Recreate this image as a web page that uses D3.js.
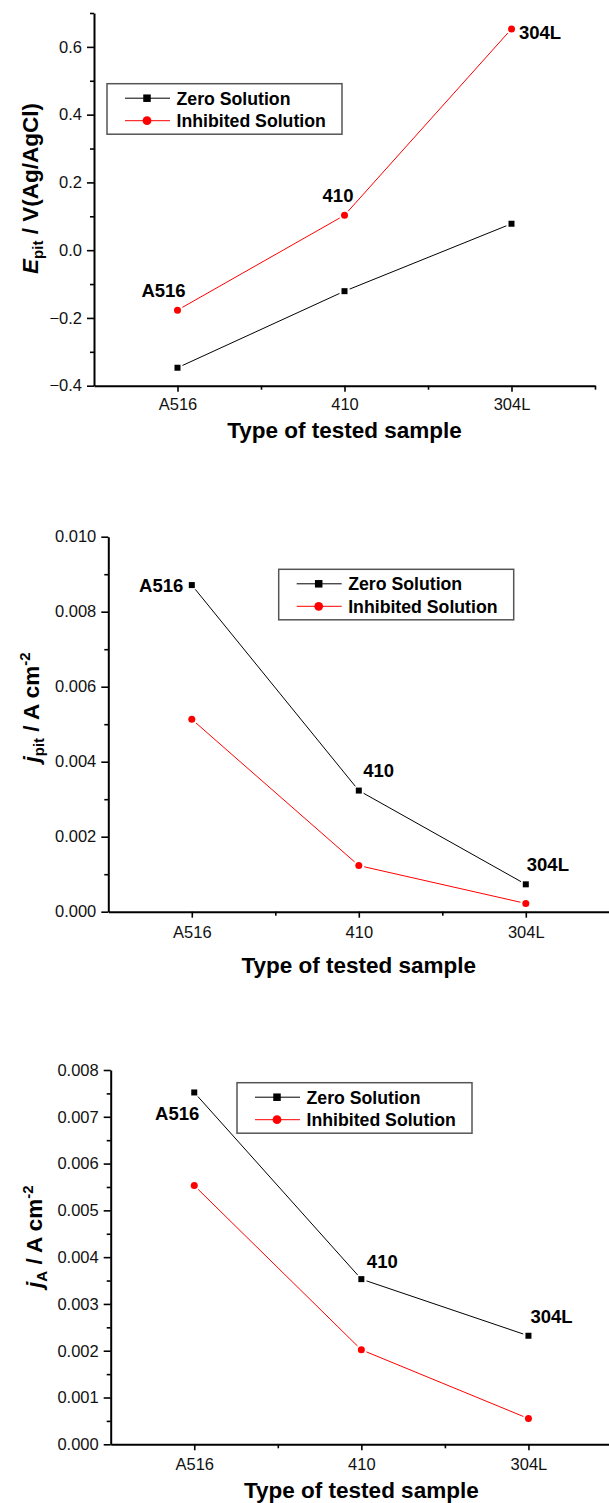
<!DOCTYPE html>
<html>
<head>
<meta charset="utf-8">
<script src="https://cdn.jsdelivr.net/npm/d3@7"></script>
<style>
  body { margin: 0; background: #fff; }
  text { font-family: "Liberation Sans", Arial, sans-serif; }
</style>
</head>
<body>
<div id="graph"></div>
<script>
var samples = ["A516", "410", "304L"]
var seriesNames = ["Zero Solution", "Inhibited Solution"]

// E_pit, V(Ag/AgCl)
var epitZero = [-0.347, -0.121, 0.078]
var epitInhib = [-0.177, 0.103, 0.653]
// j_pit, A cm-2
var jpitZero = [0.00871, 0.00323, 0.00073]
var jpitInhib = [0.00513, 0.00123, 0.00022]
// j_A, A cm-2
var jaZero = [0.00752, 0.00353, 0.00232]
var jaInhib = [0.00553, 0.00202, 0.00055]

var w = 609, h = 1503
var colours = ["#000000", "#ff0000"]

var panels = [
  {
    zero: epitZero, inhib: epitInhib,
    left: 94, right: 595, top: 13, bottom: 385.7,
    yDomain: [-0.4, 0.7], major: d3.range(-0.4, 0.61, 0.2), minor: d3.range(-0.3, 0.71, 0.2),
    fmt: ".1f", xPad: 7,
    ylab: {main: "E", sub: "pit", rest: " / V(Ag/AgCl)", x: 38, y: 188.5},
    xTitleY: 437.7,
    legend: {x: 107, y: 83.7},
    labelSeries: 1,
    labels: [{dx: -14, dy: -20, anchor: "middle"}, {dx: -6.5, dy: -19.5, anchor: "middle"}, {dx: 7.5, dy: 3, anchor: "start"}]
  },
  {
    zero: jpitZero, inhib: jpitInhib,
    left: 108.3, right: 609.3, top: 536.7, bottom: 911.7,
    yDomain: [0, 0.010], major: d3.range(0, 0.0101, 0.002), minor: d3.range(0.001, 0.0101, 0.002),
    fmt: ".3f", xPad: 9,
    ylab: {main: "j", sub: "pit", rest: " / A cm", sup: "-2", x: 38.5, y: 707.5},
    xTitleY: 972.7,
    legend: {x: 278.7, y: 569.3},
    labelSeries: 0,
    labels: [{dx: -8.5, dy: 0, anchor: "end"}, {dx: 4.5, dy: -20, anchor: "start"}, {dx: 1, dy: -20, anchor: "start"}]
  },
  {
    zero: jaZero, inhib: jaInhib,
    left: 110.7, right: 612, top: 1070, bottom: 1444.3,
    yDomain: [0, 0.008], major: d3.range(0, 0.0081, 0.001), minor: d3.range(0.0005, 0.0081, 0.001),
    fmt: ".3f", xPad: 8,
    ylab: {main: "j", sub: "A", rest: " / A cm", sup: "-2", x: 41.5, y: 1236.7},
    xTitleY: 1497.7,
    legend: {x: 237, y: 1082.7},
    labelSeries: 0,
    labels: [{dx: 5, dy: 21, anchor: "end"}, {dx: 5.5, dy: -17.5, anchor: "start"}, {dx: 2, dy: -19.5, anchor: "start"}]
  }
]

var svg = d3.select('#graph')
  .append('svg')
  .attr("width", w)
  .attr("height", h)

panels.forEach(drawPanel)

function drawPanel(p) {
  var x = d3.scaleLinear().domain([0.5, 3.5]).range([p.left, p.right])
  var y = d3.scaleLinear().domain(p.yDomain).range([p.bottom, p.top])

  var g = svg.append("g")

  // x axis
  var xAxis = g.append("g")
    .attr("transform", "translate(0," + p.bottom + ")")
    .call(d3.axisBottom(x).tickValues([1, 2, 3])
      .tickFormat(function(d){ return samples[d - 1] })
      .tickSize(6).tickSizeOuter(0).tickPadding(p.xPad))
  g.append("g")
    .attr("transform", "translate(0," + p.bottom + ")")
    .call(d3.axisBottom(x).tickValues([1.5, 2.5, 3.5]).tickSize(4).tickFormat(""))
    .select(".domain").remove()

  // y axis
  var yAxis = g.append("g")
    .attr("transform", "translate(" + p.left + ",0)")
    .call(d3.axisLeft(y).tickValues(p.major)
      .tickFormat(d3.format(p.fmt))
      .tickSize(7).tickSizeOuter(0).tickPadding(5))
  g.append("g")
    .attr("transform", "translate(" + p.left + ",0)")
    .call(d3.axisLeft(y).tickValues(p.minor).tickSize(4).tickFormat(""))
    .select(".domain").remove()

  g.selectAll(".domain").attr("stroke-width", 2)
  g.selectAll(".tick line").attr("stroke-width", 1.6)
  g.selectAll(".tick text").attr("font-size", 16.5).attr("fill", "#111")
    .style("font-family", "'Liberation Sans', Arial, sans-serif")

  // axis titles
  g.append("text")
    .attr("x", (p.left + p.right) / 2)
    .attr("y", p.xTitleY)
    .attr("text-anchor", "middle")
    .attr("font-size", 22.5)
    .attr("font-weight", "bold")
    .text("Type of tested sample")

  var yl = g.append("text")
    .attr("transform", "translate(" + p.ylab.x + "," + p.ylab.y + ") rotate(-90)")
    .attr("text-anchor", "middle")
    .attr("font-size", 22.5)
    .attr("font-weight", "bold")
  yl.append("tspan").attr("font-style", "italic").text(p.ylab.main)
  yl.append("tspan").attr("font-size", 15).attr("dy", 5).text(p.ylab.sub)
  yl.append("tspan").attr("dy", -5).text(p.ylab.rest)
  if (p.ylab.sup) {
    yl.append("tspan").attr("font-size", 15).attr("dy", -9).text(p.ylab.sup)
  }

  // series
  var series = [p.zero, p.inhib]
  series.forEach(function(vals, si) {
    var pts = vals.map(function(v, i){ return [x(i + 1), y(v)] })
    var gap = 5.5
    for (var i = 0; i < pts.length - 1; i++) {
      var a = pts[i], b = pts[i + 1]
      var dx = b[0] - a[0], dy = b[1] - a[1]
      var len = Math.sqrt(dx * dx + dy * dy)
      var ux = dx / len, uy = dy / len
      g.append("line")
        .attr("x1", a[0] + ux * gap).attr("y1", a[1] + uy * gap)
        .attr("x2", b[0] - ux * gap).attr("y2", b[1] - uy * gap)
        .attr("stroke", colours[si])
        .attr("stroke-width", 1)
    }
    pts.forEach(function(pt) { drawMarker(g, si, pt[0], pt[1], 1) })
  })

  // point labels
  var lab = series[p.labelSeries]
  lab.forEach(function(v, i) {
    var o = p.labels[i]
    g.append("text")
      .attr("x", x(i + 1) + o.dx)
      .attr("y", y(v) + o.dy)
      .attr("dy", "0.36em")
      .attr("text-anchor", o.anchor)
      .attr("font-size", 18.5)
      .attr("font-weight", "bold")
      .text(samples[i])
  })

  // legend
  var lg = g.append("g").attr("transform", "translate(" + p.legend.x + "," + p.legend.y + ")")
  lg.append("rect")
    .attr("width", 235).attr("height", 50.5)
    .attr("fill", "none")
    .attr("stroke", "#555")
    .attr("stroke-width", 1.5)
  seriesNames.forEach(function(name, si) {
    var ry = si == 0 ? 14.5 : 37
    lg.append("line")
      .attr("x1", 18).attr("x2", 63)
      .attr("y1", ry).attr("y2", ry)
      .attr("stroke", colours[si]).attr("stroke-width", 1)
    drawMarker(lg, si, 40, ry, 1.25)
    lg.append("text")
      .attr("x", 69.5).attr("y", ry)
      .attr("dy", "0.36em")
      .attr("font-size", 17.7)
      .attr("font-weight", "bold")
      .text(name)
  })
}

function drawMarker(sel, si, cx, cy, k) {
  if (si == 0) {
    var s = 6 * k
    sel.append("rect")
      .attr("x", cx - s / 2).attr("y", cy - s / 2)
      .attr("width", s).attr("height", s)
      .attr("fill", colours[0])
  } else {
    sel.append("circle")
      .attr("cx", cx).attr("cy", cy)
      .attr("r", 3.5 * k)
      .attr("fill", colours[1])
  }
}
</script>
</body>
</html>
